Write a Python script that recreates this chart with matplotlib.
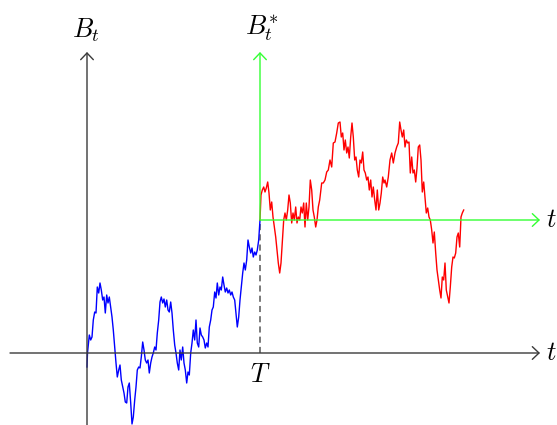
import matplotlib
matplotlib.use("Agg")
import matplotlib.pyplot as plt

plt.rcParams['mathtext.fontset'] = 'cm'

# Brownian path before T (blue) : time t, value B
t_blue = [0, 0.5, 2.3, 3.7, 5, 6.3, 7.7, 9, 10.3, 11.7, 13, 14.3, 15.7, 17, 18.3, 19.7, 21, 22.3,
          23.7, 25, 26.3, 27.7, 29, 30.3, 31.7, 33, 34.3, 35.7, 37, 38.3, 39.7, 41, 42.3, 43.7, 45,
          46.3, 47.7, 49, 50.3, 51.7, 53, 54.3, 55.7, 57, 58.3, 59.7, 61, 62.3, 63.7, 65, 66.3, 67.7,
          69, 70.3, 71.7, 73, 74.3, 75.7, 77, 78.3, 79.7, 81, 82.3, 83.7, 85, 86.3, 87.7, 89, 90.3,
          91.7, 93, 94.3, 95.7, 97, 98.3, 99.7, 101, 102.3, 103.7, 105, 106.3, 107.7, 109, 110.3,
          111.7, 113, 114.3, 115.7, 117, 118.3, 119.7, 121, 122.3, 123.7, 125, 126.3, 127.7, 129,
          130.3, 131.7, 133, 134.3, 135.7, 137, 138.3, 139.7, 141, 142.3, 143.7, 145, 146.3, 147.7,
          149, 150.3, 151.7, 153, 154.3, 155.7, 157, 158.3, 159.7, 161, 162.3, 163.7, 165, 166.3,
          167.7, 169, 170.3, 171.7, 173]
B_blue = [-14, 0, 18, 13, 16, 33, 41, 40, 66, 60, 70, 63, 53, 56, 40, 58, 50, 56,
          46, 36, 23, 6, -10, -24, -17, -12, -27, -34, -40, -49, -50, -34, -30, -50, -71,
          -64, -47, -34, -17, -14, -15, -4, 11, 3, -7, -10, -7, -20, -10, -4, 0, 6,
          3, 20, 33, 51, 56, 50, 54, 46, 53, 43, 41, 51, 40, 23, 8, 0, -10,
          -17, 3, -7, 6, -10, -17, -30, -19, -22, 0, 10, 23, 13, 33, 10,
          6, 25, 18, 16, 13, 5, 10, 6, 26, 33, 43, 46, 61, 55,
          70, 58, 66, 63, 76, 68, 61, 65, 60, 63, 58, 61, 56, 53,
          40, 26, 36, 53, 66, 80, 90, 83, 93, 113, 106, 100, 105, 96,
          101, 98, 103, 113, 133]

# Brownian path after T (red)
t_red = [173, 174, 175.3, 176.7, 178, 179.3, 180.7, 182, 183.3, 184.7, 186, 187.3, 188.7, 190,
         191.3, 192.7, 194, 195.3, 196.7, 198, 199.3, 200.7, 202, 203.3, 204.7, 206, 207.3, 208.7,
         210, 211.3, 212.7, 214, 215.3, 216.7, 218, 219.3, 220.7, 222, 223.3, 224.7, 226, 227.3,
         228.7, 230, 231.3, 232.7, 234.7, 236.3, 238, 239.7, 241.3, 243, 244.7, 246.3, 248, 249.7,
         251.3, 253, 254.3, 255.7, 257, 258.3, 259.7, 261, 262.3, 263.7, 265, 266.3, 267.7, 269,
         270.3, 271.7, 273, 274.3, 275.7, 277, 278.3, 279.7, 281, 282.3, 283.7, 285, 286.3, 287.7,
         289, 290.3, 291.7, 293, 294.3, 295.7, 297, 298, 299.7, 301.3, 303, 304.7, 306.3, 308,
         309.7, 311.3, 312.7, 314, 315.3, 316.7, 318, 319.3, 320.7, 322, 323.3, 324.7, 326, 327.3,
         328.7, 330, 331.3, 332.7, 334, 335.3, 336.7, 338, 339.3, 340.7, 342, 343.3, 344.7, 346,
         347.3, 348.7, 350, 351.3, 352.7, 354, 355.3, 356.7, 358, 359.3, 360.7, 362, 363.3, 364.7,
         366, 367.3, 368.7, 370, 371.3, 372.7, 374, 375.3, 376.7]
B_red = [133, 158, 163, 166, 161, 165, 171, 160, 143, 151, 136, 126, 116, 103,
         90, 80, 90, 110, 133, 140, 133, 143, 158, 150, 130, 140, 133, 146,
         130, 136, 133, 146, 140, 150, 126, 150, 133, 146, 173, 163, 143, 136,
         126, 133, 146, 153, 170, 170, 173, 181, 183, 193, 186, 210, 211, 220,
         230, 231, 216, 220, 203, 213, 200, 206, 195, 216, 230, 216, 193, 196,
         183, 176, 193, 190, 201, 183, 180, 173, 176, 163, 173, 156, 166, 153,
         143, 163, 143, 150, 160, 176, 170, 173, 166, 176, 193, 200, 190, 200,
         206, 210, 231, 223, 216, 223, 206, 213, 210, 211, 180, 196, 180, 183,
         171, 185, 206, 208, 193, 161, 171, 156, 140, 145, 136, 133, 123, 110,
         121, 100, 83, 73, 63, 55, 76, 73, 90, 63, 56, 50, 66, 86,
         96, 95, 100, 116, 120, 106, 136, 140, 143]

T = 173
B_T = 133
x_min, x_max = -77, 453
y_min, y_max = -72, 301

fig = plt.figure(figsize=(5.57, 4.25), dpi=100)
ax = fig.add_axes([0, 0, 1, 1])
ax.set_xlim(-87, 470)
ax.set_ylim(-72, 353)
ax.axis('off')

axis_col = '#3a3a3a'
green = '#33ff33'

def arrow(p0, p1, col):
    ax.annotate('', xy=p1, xytext=p0,
                arrowprops=dict(arrowstyle='->,head_length=0.4,head_width=0.38',
                                lw=1.0, color=col, shrinkA=0, shrinkB=0,
                                mutation_scale=12))

arrow((x_min, 0), (x_max, 0), axis_col)
arrow((0, y_min), (0, y_max), axis_col)
arrow((T, B_T), (T, y_max), green)
arrow((T, B_T), (x_max, B_T), green)

ax.plot([T, T], [0, B_T], color='#555555', lw=1.1, ls=(0, (4.0, 2.7)))

ax.plot(t_blue, B_blue, color='#0000ff', lw=1.0)
ax.plot(t_red, B_red, color='#ff0000', lw=1.0)

fs = 19
ax.text(-1, 323, r'$B_t$', fontsize=fs, ha='center', va='center')
ax.text(175, 325, r'$B_t^{*}$', fontsize=fs, ha='center', va='center')
ax.text(464, B_T, r'$t$', fontsize=fs, ha='center', va='center')
ax.text(464, 0, r'$t$', fontsize=fs, ha='center', va='center')
ax.text(T, -22, r'$T$', fontsize=fs, ha='center', va='center')

fig.savefig('out.png', dpi=100)
